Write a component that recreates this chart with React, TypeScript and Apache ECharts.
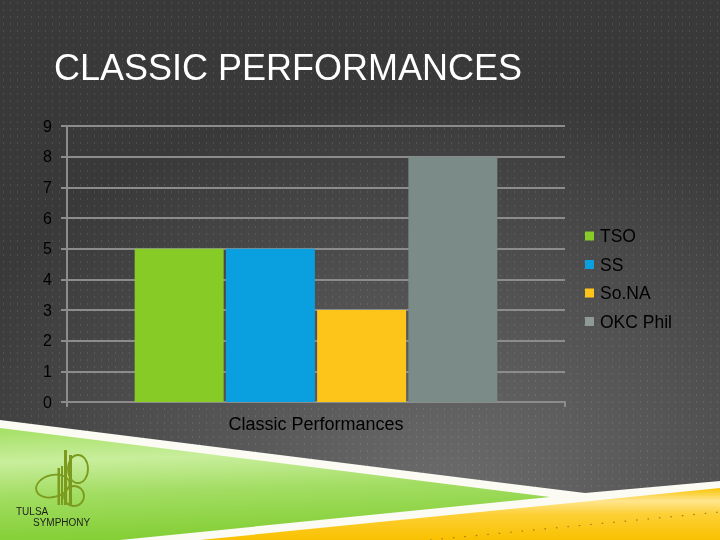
import React, { useEffect, useRef } from 'react';
import * as echarts from 'echarts';

const categories = ['Classic Performances'];
const seriesNames = ['TSO', 'SS', 'So.NA', 'OKC Phil'];
const seriesValues = [[5], [5], [3], [8]];
const seriesColors = ['#86cb26', '#0aa0e0', '#fdc41a', '#7b8b87'];
const yMax = 9;
const yInterval = 1;
const titleText = 'CLASSIC PERFORMANCES';
const logoLine1 = 'TULSA';
const logoLine2 = 'SYMPHONY';

export default function App() {
  const ref = useRef<HTMLDivElement>(null);
  useEffect(() => {
    if (!ref.current) return;
    const chart = echarts.init(ref.current, undefined, { renderer: 'svg' });

    const c = document.createElement('canvas');
    c.width = 7;
    c.height = 7;
    const ctx = c.getContext('2d');
    if (ctx) {
      ctx.fillStyle = 'rgba(255,255,255,0.10)';
      ctx.fillRect(3, 2, 1, 2);
    }
    const dotUrl = c.toDataURL();

    const olive = '#7c9a1e';

    const option: any = {
      animation: false,
      backgroundColor: new echarts.graphic.RadialGradient(0.62, 0.92, 0.75, [
        { offset: 0, color: '#6c6c6c' },
        { offset: 0.55, color: '#505050' },
        { offset: 1, color: '#393939' },
      ]),
      title: {
        text: titleText,
        left: 49,
        top: 44,
        textStyle: {
          color: '#ffffff',
          fontSize: 36,
          fontWeight: 'normal',
          fontFamily: 'Liberation Sans',
        },
      },
      legend: {
        orient: 'vertical',
        left: 580,
        top: 222,
        itemWidth: 9,
        itemHeight: 9,
        itemGap: 10.5,
        icon: 'rect',
        textStyle: { color: '#000', fontSize: 17.5, fontFamily: 'Liberation Sans', padding: [0, 0, 0, 1] },
        data: seriesNames.map((n, i) => ({ name: n, itemStyle: { color: i === 3 ? '#8d9a98' : seriesColors[i] } })),
      },
      grid: { left: 67, right: 155, top: 126, bottom: 138, containLabel: false },
      xAxis: {
        type: 'category',
        data: categories,
        axisLine: { lineStyle: { color: '#8c8c8c', width: 2 } },
        axisTick: { show: true, length: 5, lineStyle: { color: '#8c8c8c', width: 2 } },
        axisLabel: { color: '#000', fontSize: 18, fontFamily: 'Liberation Sans', margin: 13 },
      },
      yAxis: {
        type: 'value',
        min: 0,
        max: yMax,
        interval: yInterval,
        axisLine: { show: true, lineStyle: { color: '#8c8c8c', width: 2 } },
        axisTick: { show: true, length: 6, lineStyle: { color: '#8c8c8c', width: 2 } },
        splitLine: { lineStyle: { color: '#8c8c8c', width: 2 } },
        axisLabel: { color: '#000', fontSize: 16, fontFamily: 'Liberation Sans', margin: 15 },
      },
      series: seriesNames.map((n, i) => ({
        name: n,
        type: 'bar',
        data: seriesValues[i],
        barWidth: 89,
        barGap: '2.5%',
        itemStyle: { color: seriesColors[i] },
      })),
      graphic: [
        {
          type: 'rect',
          z: -1,
          silent: true,
          shape: { x: 0, y: 0, width: 720, height: 540 },
          style: { fill: { image: dotUrl, repeat: 'repeat', imageWidth: 7, imageHeight: 7 } },
        },
        {
          type: 'polygon',
          silent: true,
          shape: { points: [[0, 420], [585, 493], [720, 481], [720, 540], [0, 540]] },
          style: { fill: '#fbfbf4' },
        },
        {
          type: 'polygon',
          silent: true,
          shape: { points: [[0, 428], [550, 497], [120, 540], [0, 540]] },
          style: {
            fill: new echarts.graphic.LinearGradient(0, 0, 0.15, 1, [
              { offset: 0, color: '#a4e064' },
              { offset: 0.3, color: '#c8ee9c' },
              { offset: 0.6, color: '#a2dd62' },
              { offset: 1, color: '#84cf36' },
            ]),
          },
        },
        {
          type: 'polygon',
          silent: true,
          shape: { points: [[720, 488], [720, 540], [200, 540]] },
          style: {
            fill: new echarts.graphic.LinearGradient(0, 0, 0, 1, [
              { offset: 0, color: '#f8c406' },
              { offset: 0.25, color: '#ffe58e' },
              { offset: 0.5, color: '#fdd036' },
              { offset: 1, color: '#f9c100' },
            ]),
          },
        },
        {
          type: 'line',
          silent: true,
          shape: { x1: 430, y1: 540, x2: 720, y2: 512 },
          style: { stroke: '#a07a10', lineWidth: 1.2, lineDash: [1.5, 10] },
        },
        {
          type: 'ellipse',
          silent: true,
          shape: { cx: 78, cy: 469, rx: 10, ry: 14 },
          style: { fill: 'none', stroke: olive, lineWidth: 1.8 },
        },
        {
          type: 'ellipse',
          silent: true,
          rotation: 0.25,
          originX: 53,
          originY: 486,
          shape: { cx: 53, cy: 486, rx: 17, ry: 11 },
          style: { fill: 'none', stroke: olive, lineWidth: 1.8 },
        },
        {
          type: 'ellipse',
          silent: true,
          shape: { cx: 74, cy: 496, rx: 10, ry: 10 },
          style: { fill: 'none', stroke: olive, lineWidth: 1.8 },
        },
        { type: 'rect', silent: true, shape: { x: 64, y: 450, width: 3, height: 55 }, style: { fill: olive } },
        { type: 'rect', silent: true, shape: { x: 69, y: 455, width: 3, height: 50 }, style: { fill: olive } },
        { type: 'rect', silent: true, shape: { x: 57.5, y: 468, width: 2.5, height: 37 }, style: { fill: olive } },
        { type: 'rect', silent: true, shape: { x: 61, y: 466, width: 2, height: 39 }, style: { fill: olive } },
        {
          type: 'text',
          silent: true,
          style: {
            x: 16,
            y: 506,
            text: logoLine1,
            fill: '#1e1e1e',
            font: '10px "Liberation Sans Narrow", "Liberation Sans", sans-serif',
          },
        },
        {
          type: 'text',
          silent: true,
          style: {
            x: 33,
            y: 517,
            text: logoLine2,
            fill: '#1e1e1e',
            font: '10px "Liberation Sans Narrow", "Liberation Sans", sans-serif',
          },
        },
      ],
    };
    chart.setOption(option);
    return () => chart.dispose();
  }, []);
  return <div ref={ref} style={{ position: 'fixed', left: 0, top: 0, width: 720, height: 540 }} />;
}
